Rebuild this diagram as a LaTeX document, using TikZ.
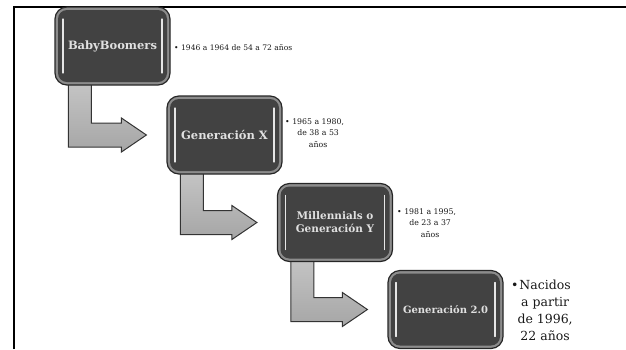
\documentclass[tikz,border=0pt]{standalone}
\usepackage{fontspec}
\setmainfont{DejaVu Serif}
\usetikzlibrary{calc}
\pgfdeclarelayer{background}
\pgfsetlayers{background,main}
\tikzset{
  genbox/.style={draw=black!85, line width=1.2pt, rounded corners=12pt, fill=gray!90,
    minimum width=115pt, minimum height=78pt, inner sep=2pt, text=white!88!black,
    font=\bfseries, align=center,
    path picture={
      \fill[black!74, rounded corners=9pt]
        ([shift={(3pt,3pt)}]path picture bounding box.south west) rectangle
        ([shift={(-3pt,-3pt)}]path picture bounding box.north east);
      \draw[white!80!gray, line width=1.2pt, line cap=round, sharp corners]
        ([shift={(8pt,12pt)}]path picture bounding box.south west) --
        ([shift={(8pt,-12pt)}]path picture bounding box.north west);
      \draw[white!80!gray, line width=1.2pt, line cap=round, sharp corners]
        ([shift={(-8pt,12pt)}]path picture bounding box.south east) --
        ([shift={(-8pt,-12pt)}]path picture bounding box.north east);
    }},
  genarrow/.style={draw=black!80, line width=1pt, top color=gray!45, bottom color=gray!70, line join=miter},
  sidetext/.style={inner sep=0pt, text=black!90, align=center},
  frameline/.style={draw=black, line width=1.5pt}
}
\newcommand\genconnect[2]{%
  \draw[genarrow] ($(#1.south west)+(14,-6)$) |- ($(#2.west)+(-45,12)$)
    -- ($(#2.west)+(-45,17)$) -- ($(#2.west)+(-20,0)$)
    -- ($(#2.west)+(-45,-17)$) -- ($(#2.west)+(-45,-12)$)
    -| ($(#1.south west)+(37,-6)$) -- cycle;}
\begin{document}
\begin{tikzpicture}[x=1pt,y=-1pt]
\useasboundingbox (0,0) rectangle (626,349);
\draw[frameline] (14,349) -- (14,7) -- (626,7);

\node[genbox, font=\bfseries\fontsize{11.5}{14}\selectfont] (b1) at (112.5,46) {BabyBoomers};
\node[genbox, font=\bfseries\fontsize{11.5}{14}\selectfont] (b2) at (224.5,135) {Generación X};
\node[genbox, font=\bfseries\fontsize{10.5}{13}\selectfont] (b3) at (335,222.5) {Millennials o\\Generación Y};
\node[genbox, font=\bfseries\fontsize{10}{12}\selectfont] (b4) at (445.5,309.5) {Generación 2.0};

\begin{pgfonlayer}{background}
\genconnect{b1}{b2}
\genconnect{b2}{b3}
\genconnect{b3}{b4}
\end{pgfonlayer}

\node[sidetext, anchor=west, font=\fontsize{7.6}{11}\selectfont] (t1) at (174,48)
  {\textbullet\ 1946 a 1964 de 54 a 72 años};
\node[sidetext, anchor=north west, font=\fontsize{7.8}{11.5}\selectfont] (t2) at (285,116)
  {\textbullet\ \begin{tabular}[t]{@{}c@{}}1965 a 1980,\\ de 38 a 53\\ años\end{tabular}};
\node[sidetext, anchor=north west, font=\fontsize{7.8}{11.5}\selectfont] (t3) at (397,206)
  {\textbullet\ \begin{tabular}[t]{@{}c@{}}1981 a 1995,\\ de 23 a 37\\ años\end{tabular}};
\node[sidetext, anchor=north west, font=\fontsize{12.5}{16.8}\selectfont] (t4) at (511,278)
  {\textbullet\hspace{-1pt}\begin{tabular}[t]{@{}c@{}}Nacidos\\ a partir\\ de 1996,\\ 22 años\end{tabular}};
\end{tikzpicture}
\end{document}
